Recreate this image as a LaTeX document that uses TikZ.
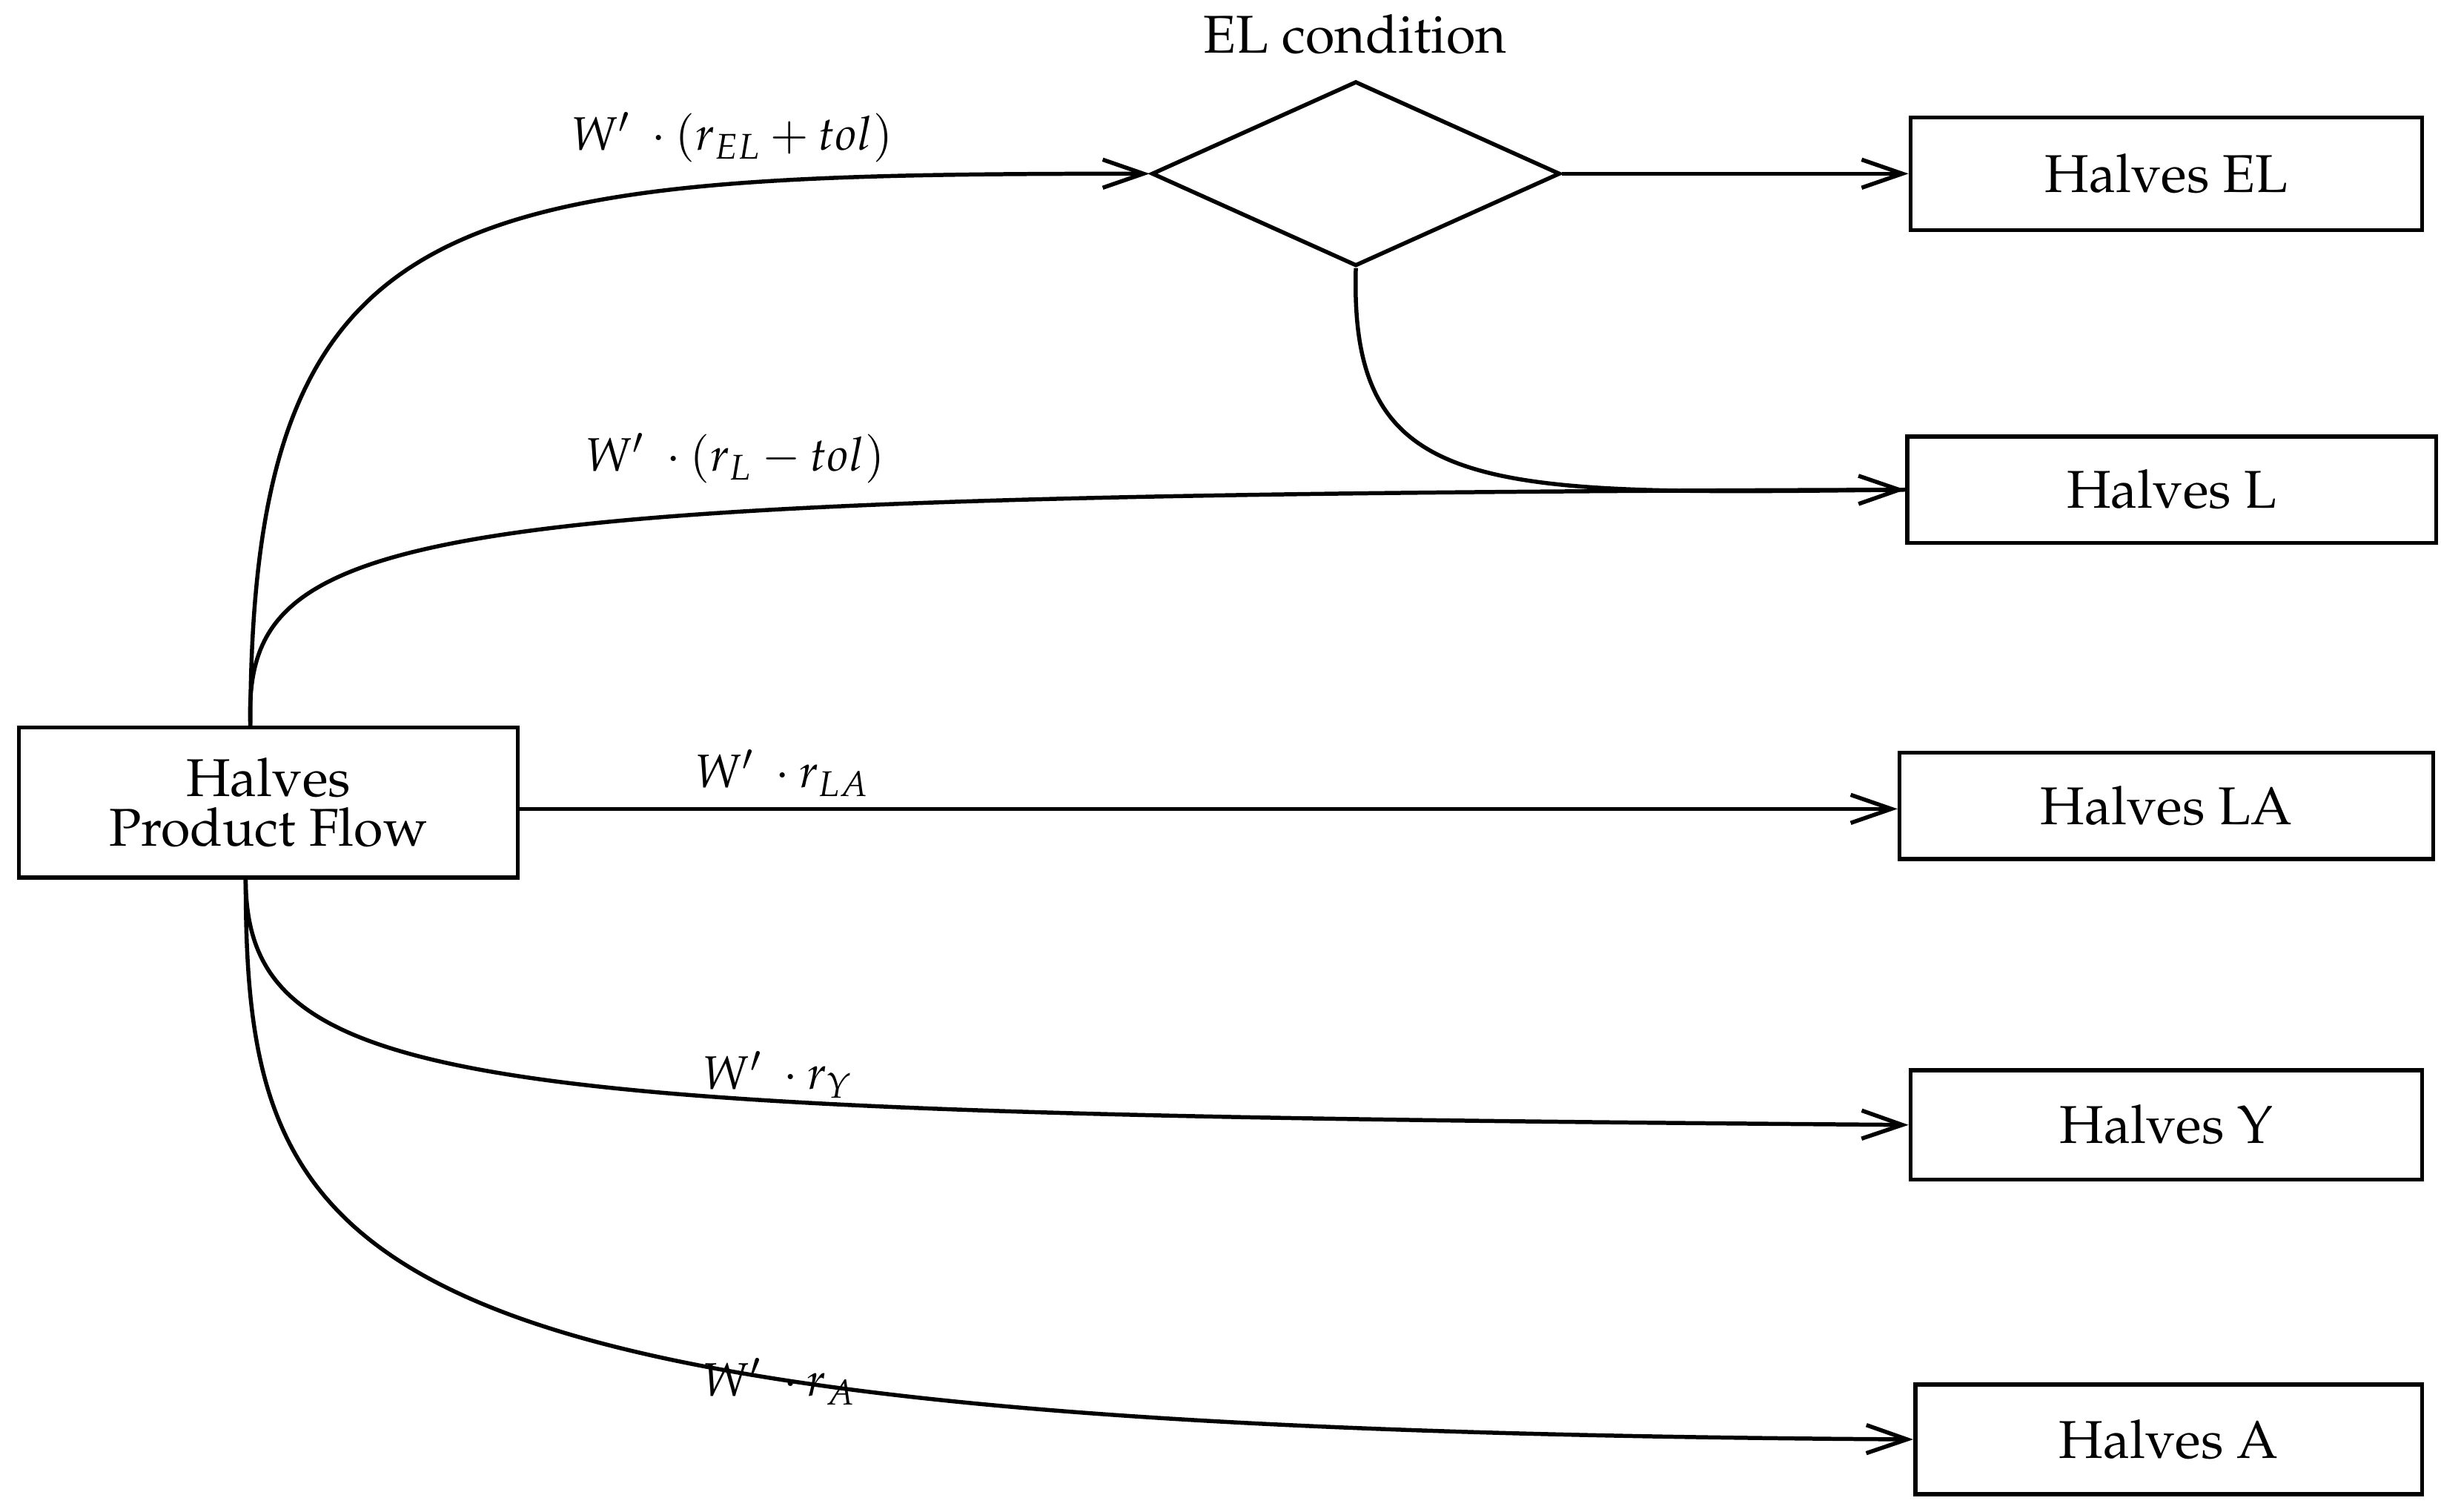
\documentclass[tikz,border=0pt]{standalone}
\usepackage[T1]{fontenc}
\usepackage{mathpazo}
\usetikzlibrary{arrows.meta,shapes.geometric}
\begin{document}
\begin{tikzpicture}[x=0.5pt,y=-0.5pt,line width=1.3pt,
  box/.style={draw,rectangle,minimum height=34pt,inner sep=0pt,font=\fontsize{17}{19}\selectfont},
  lbl/.style={font=\fontsize{15}{17}\selectfont},
  arr/.style={-{Straight Barb[length=13pt,width=9pt,line width=1.3pt]}}]
\useasboundingbox (0,0) rectangle (1560,966);
\node[box,minimum width=159.5pt,minimum height=48pt,align=center,font=\fontsize{17}{16}\selectfont] (src) at (171.5,513) {Halves\\Product Flow};
\node[draw,diamond,minimum width=130.5pt,minimum height=59pt,inner sep=0pt,aspect=2.2] (dia) at (866.5,111) {};
\node[font=\fontsize{17}{19}\selectfont] (elc) at (866,22) {EL condition};
\node[box,minimum width=163.5pt,minimum height=36pt] (hel) at (1384.5,111) {Halves EL};
\node[box,minimum width=169pt] (hl) at (1388,313) {Halves L};
\node[box,minimum width=170.5pt] (hla) at (1384.5,515) {Halves LA};
\node[box,minimum width=163.5pt,minimum height=35pt] (hy) at (1384.5,719) {Halves Y};
\node[box,minimum width=162pt,minimum height=35pt] (ha) at (1386,920) {Halves A};
\coordinate (s1) at (160,465);
\coordinate (s2) at (157,561);
\draw[arr] (s1) .. controls (160,125) and (290,111) .. (dia.west);
\draw[arr] (s1) .. controls (155,335) and (250,316) .. (hl.west);
\draw[arr] (src.east |- 0,517) -- (hla.west |- 0,517);
\draw[arr] (s2) .. controls (157,700) and (300,712) .. (hy.west);
\draw[arr] (s2) .. controls (157,820) and (220,914) .. (ha.west);
\draw[arr] (dia.east) -- (hel.west);
\draw (dia.south) .. controls (862,320) and (950,316) .. (hl.west);
\node[lbl] at (468,88) {$W'\ \cdot(r_{EL}+tol)$};
\node[lbl] at (470,293) {$W'\ \cdot(r_{L}-tol)$};
\node[lbl] at (500,494) {$W'\ \cdot r_{LA}$};
\node[lbl] at (497,687) {$W'\ \cdot r_{Y}$};
\node[lbl] at (498,883) {$W'\ \cdot r_{A}$};
\end{tikzpicture}
\end{document}
